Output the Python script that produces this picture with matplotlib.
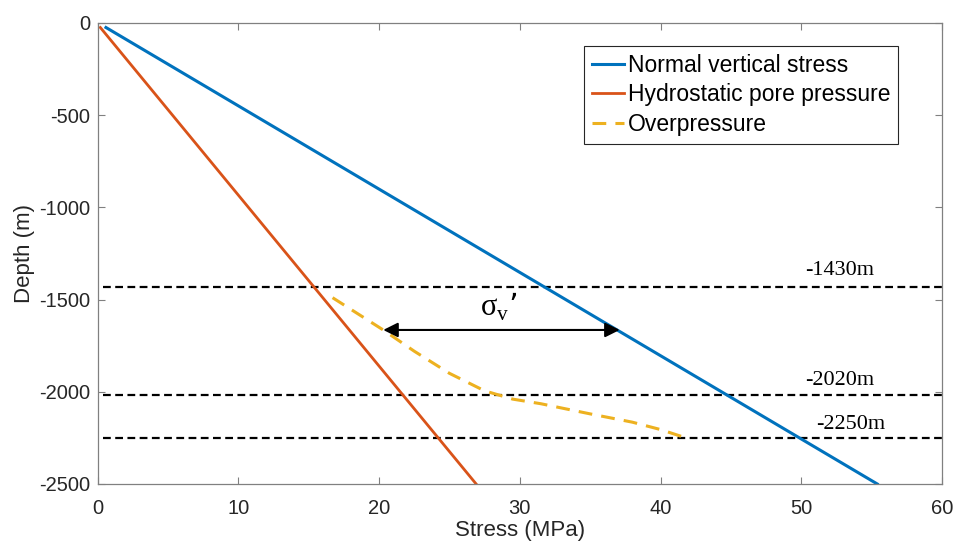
import matplotlib.pyplot as plt

# depth profiles (MPa vs m)
vertical_x = [0.6, 55.4]
vertical_y = [-25, -2500]
hydro_x = [0.2, 26.9]
hydro_y = [-25, -2500]
over_x = [16.7, 20.3, 22.5, 25.0, 27.5, 29.5, 31.5, 35.0, 38.0, 40.0, 41.8]
over_y = [-1490, -1665, -1780, -1900, -1995, -2040, -2065, -2120, -2165, -2205, -2250]

marker_depths = [-1430, -2020, -2250]
marker_labels = ['-1430m', '-2020m', '-2250m']
label_pos = [(52.7, -1340), (52.7, -1940), (53.5, -2180)]

arrow_y = -1665
arrow_x = (20.3, 37.1)

plt.rcParams['font.family'] = ['Liberation Sans', 'DejaVu Sans']
plt.rcParams['axes.unicode_minus'] = False

fig = plt.figure(figsize=(9.58, 5.45), dpi=100)
ax = fig.add_axes([0.1018, 0.112, 0.8815, 0.846])

ax.plot(vertical_x, vertical_y, color='#0072BD', lw=2.2, label='Normal vertical stress')
ax.plot(hydro_x, hydro_y, color='#D95319', lw=2.0, label='Hydrostatic pore pressure')
ax.plot(over_x, over_y, color='#EDB120', lw=2.2, ls=(0, (4.5, 3)), label='Overpressure')

for d in marker_depths:
    ax.plot([0.4, 60], [d, d], color='black', lw=1.6, ls=(0, (3.5, 2)), zorder=1)
for lab, (tx, ty) in zip(marker_labels, label_pos):
    ax.text(tx, ty, lab, ha='center', va='center', fontsize=16, family='Liberation Serif')

ax.annotate('', xy=(arrow_x[0], arrow_y), xytext=(arrow_x[1], arrow_y),
            arrowprops=dict(arrowstyle='<|-|>', color='black', lw=1.5,
                            mutation_scale=22, shrinkA=0, shrinkB=0))
ax.text(28.5, -1540, 'σ$_\\mathregular{v}$’', ha='center', va='center',
        fontsize=22, family='Liberation Serif')

ax.set_xlim(0, 60)
ax.set_ylim(-2500, 0)
ax.set_xticks(range(0, 61, 10))
ax.set_yticks(range(-2500, 1, 500))
ax.tick_params(direction='in', length=5, width=0.8, colors='#808080',
               labelcolor='#262626', labelsize=14.5, top=True, right=True, pad=5)
ax.tick_params(axis='x', pad=11)
for s in ax.spines.values():
    s.set_color('#808080')
    s.set_linewidth(0.9)

ax.set_xlabel('Stress (MPa)', fontsize=16, color='#262626', labelpad=1)
ax.set_ylabel('Depth (m)', fontsize=16, color='#262626', labelpad=3)

leg = ax.legend(loc='upper right', bbox_to_anchor=(0.948, 0.95), fontsize=16.5,
                handlelength=1.4, handletextpad=0.15, borderpad=0.35,
                labelspacing=0.28, fancybox=False, framealpha=1, borderaxespad=0)
leg.get_frame().set_edgecolor('#262626')
leg.get_frame().set_linewidth(0.8)

fig.savefig('out.png', dpi=100)
